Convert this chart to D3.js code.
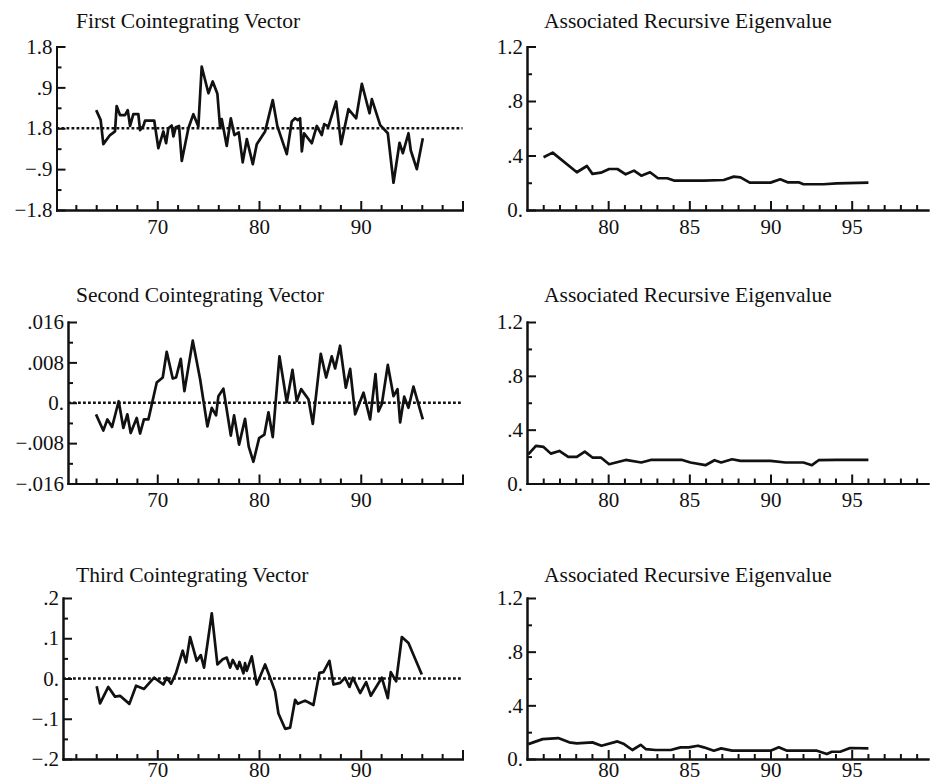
<!DOCTYPE html>
<html>
<head>
<meta charset="utf-8">
<script src="https://cdn.jsdelivr.net/npm/d3@7"></script>
<style>
body { margin: 0; background: #fff; }
svg text { font-family: "Liberation Serif", serif; fill: #111; }
.title { font-size: 21.5px; }
.axis text { font-size: 21px; }
.axis path, .axis line { stroke: #111; stroke-width: 2; }
</style>
</head>
<body>
<svg id="chart" width="930" height="781"></svg>
<script>
// cointegrating vectors (year, value)
const firstYears = [64.0,64.44,64.7,65.36,65.85,66.01,66.34,66.83,67.1,67.33,67.65,68.14,68.31,68.64,68.8,69.7,70.11,70.6,70.87,71.09,71.42,71.59,71.82,72.14,72.41,73.06,73.55,74.04,74.37,75.03,75.45,75.91,76.18,76.34,76.83,77.23,77.58,78.01,78.4,78.8,79.39,79.78,80.6,81.35,81.81,82.73,83.22,83.55,83.81,84.04,84.21,84.43,85.19,85.68,86.17,86.4,86.83,87.58,88.07,88.79,89.55,90.11,90.86,91.09,91.91,92.66,93.22,93.81,94.14,94.69,94.92,95.51,96.1]
const firstValues = [0.40,0.18,-0.35,-0.15,-0.07,0.49,0.29,0.29,0.40,0.05,0.31,0.31,-0.04,0.05,0.17,0.17,-0.44,-0.07,-0.33,0.0,0.06,-0.18,0.02,0.05,-0.72,0.0,0.31,0.04,1.36,0.77,1.03,0.76,0.0,0.20,-0.39,0.22,-0.15,-0.09,-0.75,-0.24,-0.79,-0.35,-0.07,0.62,0.04,-0.57,0.15,0.22,0.18,0.22,-0.51,-0.11,-0.33,0.05,-0.15,0.09,0.04,0.59,-0.35,0.42,0.22,0.98,0.33,0.64,0.07,-0.11,-1.20,-0.32,-0.55,-0.11,-0.49,-0.90,-0.22]

const secondYears = [63.98,64.7,65.1,65.56,66.21,66.67,67.06,67.39,67.98,68.31,68.69,69.13,69.95,70.54,70.93,71.52,71.85,72.31,72.67,73.49,74.21,74.93,75.36,75.78,76.01,76.5,77.23,77.55,78.04,78.63,78.99,79.45,80.01,80.53,80.93,81.35,82.01,82.73,83.29,83.71,84.14,84.86,85.29,86.07,86.6,87.15,87.48,87.97,88.53,88.96,89.45,90.27,90.92,91.45,91.74,92.07,92.66,93.22,93.61,93.87,94.27,94.69,95.18,96.1]
const secondValues = [-0.0023,-0.0055,-0.0033,-0.0048,0.0003,-0.005,-0.0023,-0.006,-0.003,-0.0061,-0.0033,-0.0033,0.004,0.005,0.0101,0.0048,0.005,0.0087,0.0023,0.0123,0.0047,-0.0047,-0.001,-0.0025,0.0013,0.0028,-0.0065,-0.0025,-0.0083,-0.0032,-0.0087,-0.0117,-0.007,-0.0063,-0.0019,-0.0068,0.0092,0.0001,0.0065,0.0003,0.0027,0.0007,-0.0042,0.0097,0.005,0.0092,0.0068,0.0113,0.003,0.0067,-0.0023,0.002,-0.0033,0.0057,-0.0017,-0.0003,0.0075,0.0013,0.0027,-0.0039,0.0012,-0.001,0.0032,-0.0033]

const thirdYears = [64.05,64.38,65.19,65.85,66.34,67.26,67.92,68.7,69.69,70.6,70.93,71.36,71.85,72.5,72.83,73.23,73.88,74.28,74.6,75.36,75.91,76.44,76.83,77.16,77.42,77.88,78.08,78.47,78.63,78.8,79.29,79.78,80.6,81.03,81.58,81.91,82.57,83.06,83.55,83.81,84.53,85.35,85.94,86.33,86.92,87.32,87.97,88.46,88.89,89.22,89.94,90.53,90.99,92.07,92.66,92.95,93.48,94.04,94.69,96.0]
const thirdValues = [-0.019,-0.062,-0.021,-0.045,-0.043,-0.063,-0.018,-0.026,0.002,-0.015,0.002,-0.013,0.014,0.069,0.040,0.103,0.044,0.058,0.027,0.162,0.035,0.048,0.052,0.027,0.046,0.024,0.041,0.013,0.038,0.019,0.055,-0.015,0.035,0.006,-0.032,-0.087,-0.125,-0.122,-0.053,-0.063,-0.055,-0.066,0.014,0.016,0.044,-0.015,-0.011,0.002,-0.021,0.002,-0.036,-0.009,-0.043,0.002,-0.049,0.016,-0.007,0.103,0.088,0.010]

// associated recursive eigenvalues
const eig1Years = [76.02,76.58,78.07,78.69,79.03,79.55,80.06,80.57,81.08,81.59,82.04,82.58,83.07,83.64,84.05,85.89,87.12,87.74,88.15,88.72,90.0,90.6,91.05,91.73,92.03,93.26,94.08,96.03]
const eig1Values = [0.387,0.421,0.277,0.323,0.265,0.274,0.301,0.301,0.262,0.289,0.252,0.277,0.233,0.233,0.216,0.216,0.22,0.245,0.24,0.201,0.201,0.225,0.203,0.203,0.189,0.189,0.196,0.201]

const eig2Years = [75.08,75.55,76.02,76.47,76.99,77.54,78.07,78.56,79.03,79.55,80.06,81.08,82.04,82.62,83.85,84.56,85.07,85.99,86.55,86.96,87.63,88.15,90.0,90.92,92.03,92.55,92.96,94.08,96.03]
const eig2Values = [0.217,0.279,0.272,0.222,0.242,0.198,0.198,0.237,0.193,0.193,0.143,0.175,0.156,0.175,0.175,0.175,0.156,0.136,0.173,0.156,0.18,0.168,0.168,0.156,0.156,0.136,0.173,0.175,0.175]

const eig3Years = [75.08,75.96,76.92,77.6,78.07,79.03,79.59,80.57,80.98,81.49,82.0,82.31,82.92,83.85,84.46,84.97,85.53,85.89,86.51,86.96,87.63,90.0,90.51,91.02,92.86,93.47,93.78,94.29,94.9,96.03]
const eig3Values = [0.111,0.148,0.156,0.124,0.116,0.124,0.099,0.131,0.111,0.067,0.106,0.074,0.067,0.067,0.087,0.087,0.099,0.087,0.062,0.079,0.062,0.062,0.087,0.062,0.062,0.037,0.054,0.054,0.082,0.079]

// titles and tick labels
const leftTitles = ["First Cointegrating Vector", "Second Cointegrating Vector", "Third Cointegrating Vector"]
const rightTitle = "Associated Recursive Eigenvalue"

const leftYTicks = [[-1.8,-0.9,0,0.9,1.8], [-0.016,-0.008,0,0.008,0.016], [-0.2,-0.1,0,0.1,0.2]]
const leftYLabels = [["−1.8","−.9","1.8",".9","1.8"], ["−.016","−.008","0.",".008",".016"], ["−.2","−.1","0.",".1",".2"]]
const leftYMinor = [[-1.35,-0.45,0.45,1.35], [-0.012,-0.004,0.004,0.012], [-0.15,-0.05,0.05,0.15]]

const rightYTicks = [0,0.4,0.8,1.2]
const rightYLabels = ["0.",".4",".8","1.2"]
const rightYMinor = [0.2,0.6,1.0]

const leftXTicks = [70,80,90,100]
const leftXLabels = ["70","80","90",""]
const leftXMinor = [62,64,66,68,72,74,76,78,82,84,86,88,92,94,96,98]

const rightXTicks = [80,85,90,95]
const rightXLabels = ["80","85","90","95"]
const rightXMinor = [76,77,78,79,81,82,83,84,86,87,88,89,91,92,93,94,96,97,98,99]

// layout
const rowTop = [46.5, 322, 598]
const rowBottom = [210, 483.5, 759]
const titleBase = [28, 302, 582]
const leftAxisX = [56.5, 68, 63]
const xLabelPad = [9, 9, 3]

const svg = d3.select("#chart")

// all left panels share one year scale
const leftYears = d3.scaleLinear().domain([60, 100]).range([55.5, 462.5])

function drawPanel(p) {
    const g = svg.append("g")

    const x = d3.scaleLinear().domain(p.xDomain).range([p.left, p.right])
    const y = d3.scaleLinear().domain(p.yDomain).range([p.bottom, p.top])

    // minor ticks first, then major ones with labels
    g.append("g").attr("class", "axis")
        .attr("transform", "translate(0," + p.bottom + ")")
        .call(d3.axisBottom(x).tickValues(p.xMinor).tickSize(-5).tickSizeOuter(0).tickFormat(""))
    g.append("g").attr("class", "axis")
        .attr("transform", "translate(0," + p.bottom + ")")
        .call(d3.axisBottom(x).tickValues(p.xTicks).tickSize(-9).tickSizeOuter(0).tickPadding(p.xPad)
            .tickFormat((d, i) => p.xLabels[i]))

    g.append("g").attr("class", "axis")
        .attr("transform", "translate(" + p.left + ",0)")
        .call(d3.axisLeft(y).tickValues(p.yMinor).tickSize(-5).tickSizeOuter(0).tickFormat(""))
    g.append("g").attr("class", "axis")
        .attr("transform", "translate(" + p.left + ",0)")
        .call(d3.axisLeft(y).tickValues(p.yTicks).tickSize(-9).tickSizeOuter(0).tickPadding(4)
            .tickFormat((d, i) => p.yLabels[i]))

    g.selectAll(".axis .domain").attr("stroke-linecap", "square")

    if (p.zeroLine) {
        g.append("line")
            .attr("x1", p.left).attr("x2", p.right)
            .attr("y1", y(0)).attr("y2", y(0))
            .attr("stroke", "#111")
            .attr("stroke-width", 2.4)
            .attr("stroke-dasharray", "2.8,2.2")
    }

    const line = d3.line().x(d => x(d[0])).y(d => y(d[1]))
    g.append("path")
        .datum(d3.zip(p.years, p.values))
        .attr("d", line)
        .attr("fill", "none")
        .attr("stroke", "#111")
        .attr("stroke-width", 2.7)
        .attr("stroke-linejoin", "round")

    g.append("text")
        .attr("class", "title")
        .attr("x", p.titleX)
        .attr("y", p.titleY)
        .text(p.title)
}

const leftSeries = [[firstYears, firstValues], [secondYears, secondValues], [thirdYears, thirdValues]]
const rightSeries = [[eig1Years, eig1Values], [eig2Years, eig2Values], [eig3Years, eig3Values]]
const leftYRange = [[-1.8, 1.8], [-0.016, 0.016], [-0.2, 0.2]]

for (let i = 0; i < 3; i++) {
    drawPanel({
        left: leftAxisX[i], right: 462.5, top: rowTop[i], bottom: rowBottom[i],
        xDomain: [leftYears.invert(leftAxisX[i]), 100], yDomain: leftYRange[i],
        xTicks: leftXTicks, xLabels: leftXLabels, xMinor: leftXMinor, xPad: xLabelPad[i],
        yTicks: leftYTicks[i], yLabels: leftYLabels[i], yMinor: leftYMinor[i],
        years: leftSeries[i][0], values: leftSeries[i][1],
        zeroLine: true, title: leftTitles[i], titleX: 76, titleY: titleBase[i]
    })

    drawPanel({
        left: 527, right: 928, top: rowTop[i], bottom: rowBottom[i],
        xDomain: [75, 99.7], yDomain: [0, 1.2],
        xTicks: rightXTicks, xLabels: rightXLabels, xMinor: rightXMinor, xPad: xLabelPad[i],
        yTicks: rightYTicks, yLabels: rightYLabels, yMinor: rightYMinor,
        years: rightSeries[i][0], values: rightSeries[i][1],
        zeroLine: false, title: rightTitle, titleX: 544, titleY: titleBase[i]
    })
}
</script>
</body>
</html>
